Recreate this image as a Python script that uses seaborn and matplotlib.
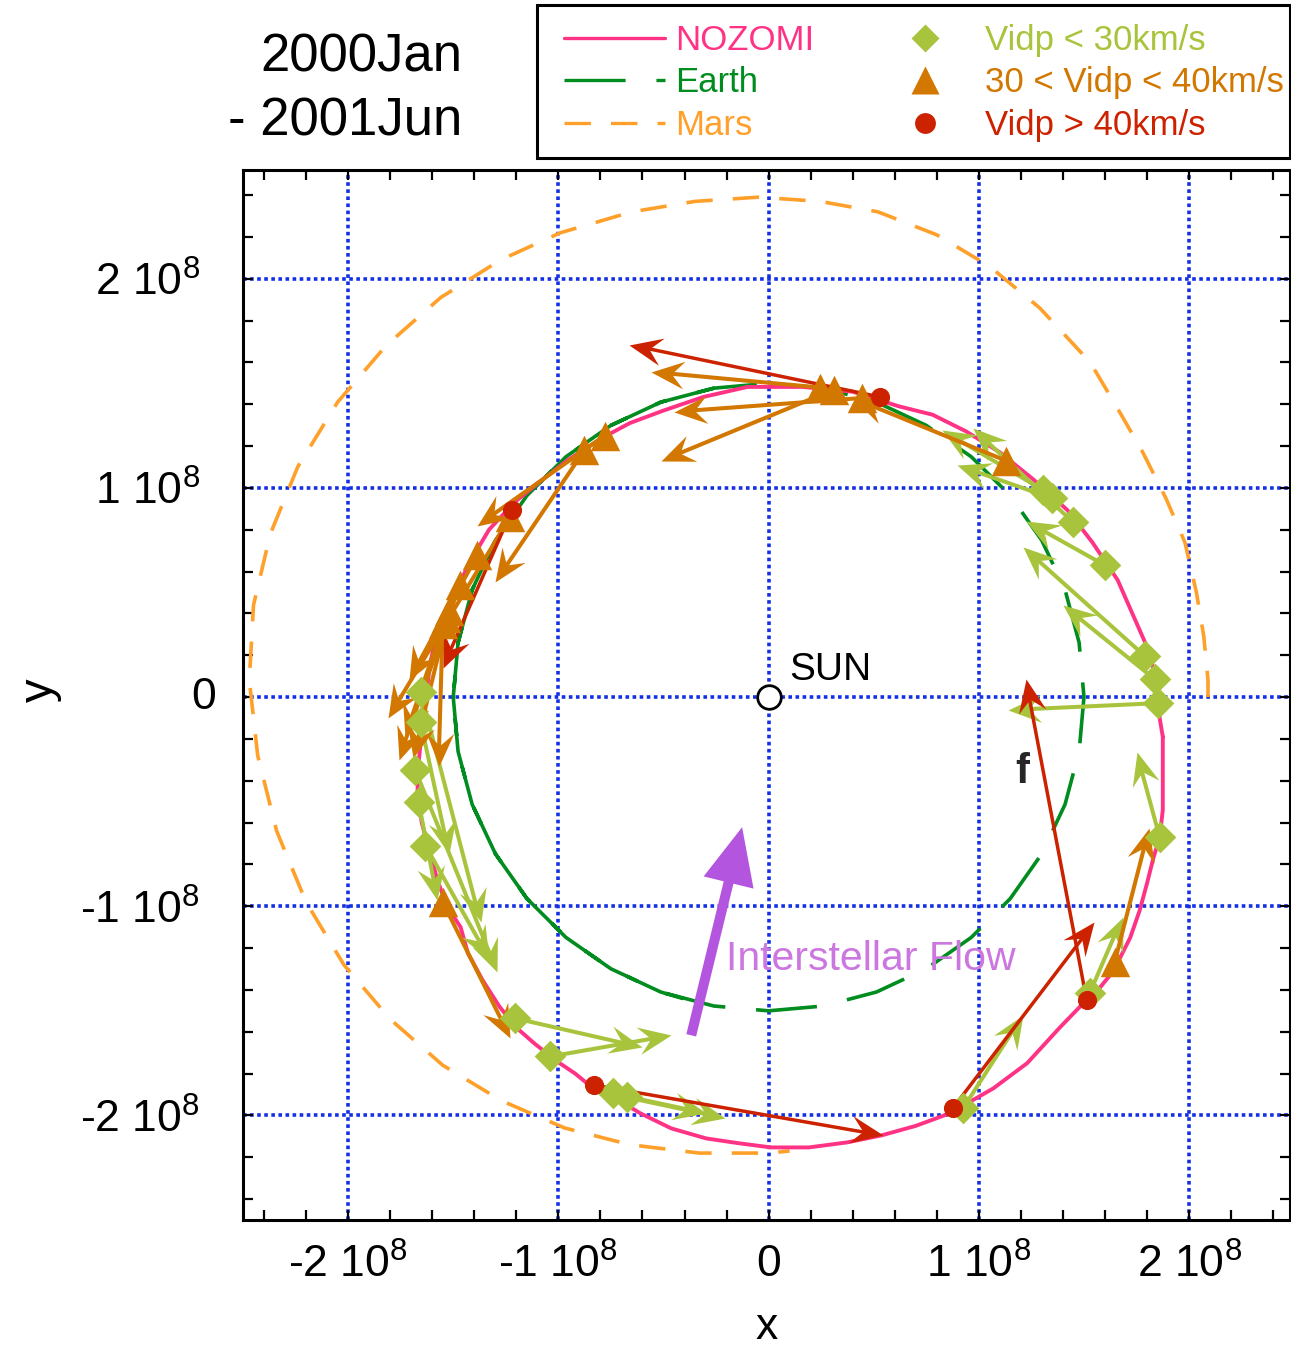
import matplotlib
matplotlib.use("Agg")
import numpy as np
import matplotlib.pyplot as plt
import seaborn as sns
from matplotlib.lines import Line2D
from matplotlib.markers import MarkerStyle
from matplotlib.path import Path
from matplotlib.patches import FancyArrowPatch, Rectangle
from matplotlib.transforms import Affine2D, blended_transform_factory
from matplotlib.ticker import MultipleLocator, FixedLocator

# positions in units of 1e8 km
E8 = 1e8

nozomi_x = [1.875, 1.86, 1.85, 1.80, 1.73, 1.66, 1.54, 1.42, 1.26, 1.10, 0.94, 0.78, 0.62, 0.40, 0.16,
            -0.10, -0.31, -0.50, -0.66, -0.79, -0.96, -1.10, -1.21, -1.33, -1.43, -1.51, -1.575, -1.61,
            -1.63, -1.645, -1.665, -1.67, -1.65, -1.61, -1.575, -1.53, -1.465, -1.43, -1.36, -1.28, -1.20,
            -1.114, -1.0, -0.92, -0.84, -0.74, -0.61, -0.463, -0.297, -0.135, 0.012, 0.192, 0.373, 0.535,
            0.70, 0.862, 1.07, 1.23, 1.385, 1.51, 1.575, 1.64, 1.72, 1.765, 1.80, 1.83, 1.86, 1.875,
            1.875, 1.875]
nozomi_y = [-0.19, -0.10, 0.07, 0.24, 0.40, 0.56, 0.74, 0.895, 1.04, 1.17, 1.27, 1.35, 1.39, 1.46, 1.483,
            1.483, 1.435, 1.37, 1.31, 1.24, 1.13, 1.02, 0.93, 0.80, 0.63, 0.45, 0.32, 0.16,
            0.0, -0.11, -0.32, -0.45, -0.60, -0.75, -0.875, -1.00, -1.10, -1.225, -1.354, -1.48, -1.58,
            -1.656, -1.746, -1.80, -1.866, -1.91, -1.99, -2.062, -2.11, -2.134, -2.153, -2.153, -2.129, -2.096,
            -2.05, -1.99, -1.87, -1.75, -1.58, -1.45, -1.39, -1.31, -1.15, -1.02, -0.89, -0.77, -0.67, -0.54,
            -0.25, -0.19]

# Earth goes round a bit more than once (Jan 2000 - Jun 2001)
earth_x = [-0.26, -0.513, -0.75, -0.964, -1.149, -1.299, -1.41, -1.477, -1.5, -1.477, -1.41, -1.299,
           -1.149, -0.964, -0.75, -0.513, -0.26, 0.0, 0.26, 0.513, 0.75, 0.964, 1.149, 1.299,
           1.41, 1.477, 1.5, 1.477, 1.41, 1.299, 1.149, 0.964, 0.75, 0.513, 0.26, 0.0,
           -0.26, -0.513, -0.75, -0.964, -1.149, -1.299, -1.41, -1.477, -1.5, -1.477, -1.41, -1.299,
           -1.149, -0.964, -0.75, -0.513, -0.337]
earth_y = [1.477, 1.41, 1.299, 1.149, 0.964, 0.75, 0.513, 0.26, 0.0, -0.26, -0.513, -0.75,
           -0.964, -1.149, -1.299, -1.41, -1.477, -1.5, -1.477, -1.41, -1.299, -1.149, -0.964, -0.75,
           -0.513, -0.26, 0.0, 0.26, 0.513, 0.75, 0.964, 1.149, 1.299, 1.41, 1.477, 1.5,
           1.477, 1.41, 1.299, 1.149, 0.964, 0.75, 0.513, 0.26, 0.0, -0.26, -0.513, -0.75,
           -0.964, -1.149, -1.299, -1.41, -1.462]

mars_x = [2.09, 2.09, 2.07, 2.035, 1.98, 1.89, 1.78, 1.66, 1.53, 1.29, 1.05, 0.80, 0.52, 0.245, -0.05,
          -0.35, -0.65, -0.99, -1.275, -1.56, -1.82, -2.05, -2.24, -2.37, -2.45, -2.47, -2.43, -2.34,
          -2.20, -2.02, -1.80, -1.55, -1.27, -0.97, -0.66, -0.33, 0.0, 0.10]
mars_y = [0.0, 0.08, 0.29, 0.50, 0.74, 0.95, 1.17, 1.38, 1.60, 1.86, 2.06, 2.21, 2.32, 2.37, 2.39,
          2.37, 2.32, 2.22, 2.09, 1.91, 1.68, 1.41, 1.10, 0.78, 0.44, 0.08, -0.28, -0.64,
          -0.98, -1.28, -1.54, -1.76, -1.93, -2.06, -2.14, -2.18, -2.18, -2.17]

# dust impacts, Vidp < 30 km/s: position and arrow tip
slow_x = [1.305, 1.35, 1.447, 1.60, 1.79, 1.836, 1.85, 1.86, 1.527, 0.925, -0.672, -0.74, -1.204,
          -1.038, -1.655, -1.655, -1.68, -1.665, -1.632]
slow_y = [0.99, 0.95, 0.837, 0.63, 0.196, 0.086, -0.029, -0.67, -1.416, -1.966, -1.914, -1.895, -1.536,
          -1.718, 0.024, -0.12, -0.35, -0.50, -0.71]
slow_tx = [0.824, 0.895, 0.97, 1.223, 1.21, 1.40, 1.138, 1.75, 1.684, 1.21, -0.206, -0.297, -0.60,
           -0.463, -1.37, -1.52, -1.29, -1.575, -1.33]
slow_ty = [1.277, 1.11, 1.287, 0.842, 0.718, 0.44, -0.062, -0.263, -1.05, -1.52, -2.014, -1.99, -1.675,
           -1.617, -1.077, -0.75, -1.316, -0.97, -1.25]

# 30 < Vidp < 40 km/s
mid_x = [0.245, 0.31, 0.445, 1.13, -0.876, -0.78, -1.23, -1.385, -1.47, -1.52, -1.55, -1.535, -1.55, 1.646]
mid_y = [1.48, 1.47, 1.43, 1.13, 1.18, 1.25, 0.86, 0.68, 0.535, 0.41, 0.35, 0.38, -0.98, -1.268]
mid_tx = [-0.56, -0.51, -0.45, 0.40, -1.30, -1.385, -1.81, -1.71, -1.76, -1.69, -1.57, -1.73, -1.228, 1.81]
mid_ty = [1.555, 1.13, 1.364, 1.43, 0.55, 0.82, -0.10, 0.08, -0.30, -0.29, -0.33, -0.19, -1.63, -0.627]

# Vidp > 40 km/s
fast_x = [0.53, -1.22, -0.83, 0.876, 1.513]
fast_y = [1.435, 0.895, -1.855, -1.966, -1.45]
fast_tx = [-0.665, -1.55, 0.545, 1.55, 1.223]
fast_ty = [1.685, 0.14, -2.096, -1.077, 0.086]

flow_start = (-0.368, -1.617)
flow_end = (-0.126, -0.622)

tick_vals = [-2, -1, 0, 1, 2]
tick_text = ["-2 10$^{8}$", "-1 10$^{8}$", "0", "1 10$^{8}$", "2 10$^{8}$"]

NOZ = "#ff3385"
EARTH = "#008c1e"
MARS = "#ffa02a"
SLOW = "#a8c43c"
MID = "#d27700"
FAST = "#cc2200"
GRID = "#1430e6"
FLOW = "#b455e0"
FLOW_TXT = "#cc77e0"

EARTH_DASH = (0, (44, 22.2))
MARS_DASH = (0, (19, 14.5))

sns.set_theme(style="ticks")
plt.rcParams["font.family"] = ["Liberation Sans", "DejaVu Sans"]
plt.rcParams["mathtext.fontset"] = "custom"
plt.rcParams["mathtext.rm"] = "Liberation Sans"
plt.rcParams["mathtext.default"] = "regular"
plt.rcParams["lines.scale_dashes"] = False

W, H = 1291, 1351
fig = plt.figure(figsize=(W / 100, H / 100), dpi=100)
ax = fig.add_axes([243 / W, 1 - 1220 / H, 1047 / W, 1050 / H])
ax.set_xlim(-2.5 * E8, 2.48 * E8)
ax.set_ylim(-2.5 * E8, 2.52 * E8)

sc = lambda v: np.array(v) * E8

sns.lineplot(x=sc(mars_x), y=sc(mars_y), sort=False, estimator=None, color=MARS, lw=2.6,
             linestyle=MARS_DASH, ax=ax, zorder=2)
sns.lineplot(x=sc(earth_x), y=sc(earth_y), sort=False, estimator=None, color=EARTH, lw=2.6,
             linestyle=EARTH_DASH, ax=ax, zorder=2)
sns.lineplot(x=sc(nozomi_x), y=sc(nozomi_y), sort=False, estimator=None, color=NOZ, lw=2.8,
             ax=ax, zorder=3)

# notched ("stealth") arrow head, tip at the origin, pointing along +x
HEAD_LEN_PX = 33
NOTCH = 0.62
head_path = Path([(0, 0), (-1, 0.42), (-NOTCH, 0), (-1, -0.42), (0, 0)],
                 [Path.MOVETO, Path.LINETO, Path.LINETO, Path.LINETO, Path.CLOSEPOLY])
head_ms = 2 * HEAD_LEN_PX * 72 / fig.dpi


def arrows(x0, y0, x1, y1, color, lw):
    inv = ax.transData.inverted()
    for a, b, c, d in zip(x0, y0, x1, y1):
        p0, p1 = ax.transData.transform([(a * E8, b * E8), (c * E8, d * E8)])
        v = p1 - p0
        u = v / np.hypot(*v)
        ang = np.degrees(np.arctan2(v[1], v[0]))
        end = inv.transform(p1 - u * (NOTCH * HEAD_LEN_PX - 1))
        ax.plot([a * E8, end[0]], [b * E8, end[1]], color=color, lw=lw,
                solid_capstyle="butt", zorder=4)
        mk = MarkerStyle(head_path, transform=Affine2D().rotate_deg(ang))
        ax.plot([c * E8], [d * E8], ls="none", marker=mk, ms=head_ms, color=color,
                mec="none", zorder=4)


arrows(slow_x, slow_y, slow_tx, slow_ty, SLOW, 2.9)
arrows(mid_x, mid_y, mid_tx, mid_ty, MID, 2.9)
arrows(fast_x, fast_y, fast_tx, fast_ty, FAST, 2.5)

sns.scatterplot(x=sc(slow_x), y=sc(slow_y), marker="D", s=260, color=SLOW, linewidth=0, ax=ax, zorder=5)
sns.scatterplot(x=sc(mid_x), y=sc(mid_y), marker="^", s=450, color=MID, linewidth=0, ax=ax, zorder=6)
sns.scatterplot(x=sc(fast_x), y=sc(fast_y), marker="o", s=190, color=FAST, linewidth=0, ax=ax, zorder=7)

# the Sun
ax.plot([0], [0], marker="o", ms=17, mfc="white", mec="black", mew=2, zorder=6)
ax.text(0.1 * E8, 0.13 * E8, "SUN", fontsize=28, ha="left", va="center", color="black")
ax.text(1.204 * E8, -0.36 * E8, "f", fontsize=30, fontweight="bold", ha="center", va="center")

ax.add_patch(FancyArrowPatch((flow_start[0] * E8, flow_start[1] * E8), (flow_end[0] * E8, flow_end[1] * E8),
                             arrowstyle="simple,head_length=4.1,head_width=3.7,tail_width=0.72",
                             mutation_scale=10, color=FLOW, lw=0, shrinkA=0, shrinkB=0, zorder=4))
ax.text(-0.202 * E8, -1.25 * E8, "Interstellar Flow", fontsize=29.5, color=FLOW_TXT,
        ha="left", va="center", zorder=4)

ax.xaxis.set_major_locator(FixedLocator([v * E8 for v in tick_vals]))
ax.yaxis.set_major_locator(FixedLocator([v * E8 for v in tick_vals]))
ax.set_xticklabels(tick_text)
# the y "0" sits further right in the original, so it is drawn on its own
ax.set_yticklabels([t if v != 0 else "" for v, t in zip(tick_vals, tick_text)])
ax.text(-39 / 1047, 0, "0", fontsize=32, ha="center", va="center", color="black",
        transform=blended_transform_factory(ax.transAxes, ax.transData))
ax.xaxis.set_minor_locator(MultipleLocator(0.2 * E8))
ax.yaxis.set_minor_locator(MultipleLocator(0.2 * E8))
ax.tick_params(which="both", direction="in", top=True, right=True, length=7, width=1.6,
               color="black", labelcolor="black")
ax.tick_params(axis="x", which="major", labelsize=32, pad=17)
ax.tick_params(axis="y", which="major", labelsize=32, pad=31)
for sp in ax.spines.values():
    sp.set_linewidth(2.2)
    sp.set_color("black")
ax.grid(True, which="major", color=GRID, lw=2.6, linestyle=(0, (2.6, 2.5)))
ax.set_axisbelow(True)

ax.set_xlabel("x", fontsize=32, color="black")
ax.set_ylabel("y", fontsize=34, color="black")
ax.xaxis.set_label_coords(0.5, -119 / 1050)
ax.xaxis.label.set_va("baseline")
ax.yaxis.set_label_coords((40 - 243) / 1047, 530 / 1050)
ax.yaxis.label.set_va("center")

handles = [
    Line2D([], [], color=NOZ, lw=2.4),
    Line2D([], [], color=EARTH, lw=2.4, linestyle=EARTH_DASH),
    Line2D([], [], color=MARS, lw=2.4, linestyle=MARS_DASH),
    Line2D([], [], ls="none", marker="D", ms=14, color=SLOW, mec="none"),
    Line2D([], [], ls="none", marker="^", ms=20, color=MID, mec="none"),
    Line2D([], [], ls="none", marker="o", ms=15, color=FAST, mec="none"),
]
labels = ["NOZOMI", "Earth", "Mars", "Vidp < 30km/s", "30 < Vidp < 40km/s", "Vidp > 40km/s"]
leg = ax.legend(handles, labels, ncol=2, loc="upper right", bbox_to_anchor=(1284 / W, 1 - 24 / H),
                bbox_transform=fig.transFigure, borderaxespad=0, fontsize=25, handlelength=2.91,
                handletextpad=0.29, columnspacing=1.73, labelspacing=0.27, borderpad=0,
                frameon=False, labelcolor=[NOZ, EARTH, MARS, SLOW, MID, FAST])
# the legend box of the original is not centred on its entries, so it is drawn on its own
fig.add_artist(Rectangle((537 / W, 1 - 158 / H), 753 / W, 153 / H, transform=fig.transFigure,
                         fill=False, ec="black", lw=2.2))

fig.text(462 / W, 1 - 58 / H, "2000Jan", fontsize=38, ha="right", va="center", color="black")
fig.text(462 / W, 1 - 121 / H, "- 2001Jun", fontsize=38, ha="right", va="center", color="black")

fig.savefig("out.png", dpi=100)
